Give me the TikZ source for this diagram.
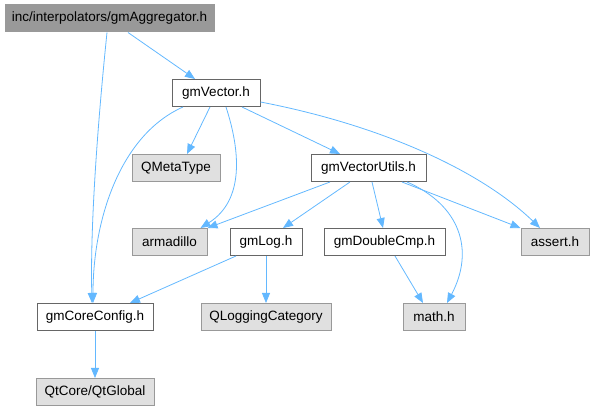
\documentclass[tikz,border=0pt]{standalone}
\usepackage{fontspec}
\setmainfont{Liberation Sans}
\usetikzlibrary{arrows.meta}
\definecolor{edgeblue}{HTML}{63B8FF}
\definecolor{darkborder}{HTML}{666666}
\definecolor{lightborder}{HTML}{999999}
\definecolor{extfill}{HTML}{E0E0E0}
\definecolor{topfill}{HTML}{999999}
\tikzset{
  filebox/.style={draw=darkborder, fill=white, line width=1pt, minimum height=27pt,
    inner sep=0pt, font=\fontsize{13.5}{15}\selectfont, text=black},
  extbox/.style={filebox, draw=lightborder, fill=extfill},
  topbox/.style={filebox, draw=lightborder, fill=topfill},
  dep/.style={draw=edgeblue, line width=0.8pt, -{Triangle[length=10pt,width=8pt]}}
}
\begin{document}
\begin{tikzpicture}[x=1pt,y=-1pt]
\useasboundingbox (0,0) rectangle (595,411);
\node[topbox, minimum width=209pt] (agg) at (109.5,18.5) {inc/interpolators/gmAggregator.h};
\node[filebox, minimum width=88pt] (vec) at (216,93) {gmVector.h};
\node[extbox, minimum width=88pt] (qmeta) at (176,168) {QMetaType};
\node[filebox, minimum width=115pt] (utils) at (368.5,168) {gmVectorUtils.h};
\node[extbox, minimum width=75pt] (arma) at (169.5,242) {armadillo};
\node[filebox, minimum width=72pt] (log) at (266,242) {gmLog.h};
\node[filebox, minimum width=121pt] (dbl) at (384.5,242) {gmDoubleCmp.h};
\node[extbox, minimum width=68pt] (assert) at (555,242) {assert.h};
\node[filebox, minimum width=116pt] (core) at (95,317) {gmCoreConfig.h};
\node[extbox, minimum width=130pt] (qlog) at (266,317) {QLoggingCategory};
\node[extbox, minimum width=62pt] (math) at (434,317) {math.h};
\node[extbox, minimum width=118pt] (qtg) at (95,392) {QtCore/QtGlobal};

\draw[dep] ([xshift=18.5pt]agg.south) -- ([xshift=-21pt]vec.north);
\draw[dep] ([xshift=-2.5pt]agg.south) .. controls (99,110) and (90,220) .. ([xshift=-3pt]core.north);
\draw[dep] ([xshift=-6pt]vec.south) -- ([xshift=11pt]qmeta.north);
\draw[dep] ([xshift=10pt]vec.south) .. controls (240,150) and (245,200) .. ([xshift=-7pt]arma.north east);
\draw[dep] ([xshift=26pt]vec.south) -- ([xshift=-28.5pt]utils.north);
\draw[dep] ([yshift=-9pt]vec.east) .. controls (380,125) and (480,170) .. ([xshift=-15pt]assert.north);
\draw[dep] ([xshift=-33pt]vec.south) .. controls (120,135) and (93,220) .. ([xshift=-2pt]core.north);
\draw[dep] ([xshift=-38.5pt]utils.south) -- (arma.north east);
\draw[dep] ([xshift=-18.5pt]utils.south) -- ([xshift=17pt]log.north);
\draw[dep] ([xshift=3.5pt]utils.south) -- ([xshift=-1.5pt]dbl.north);
\draw[dep] ([xshift=33.5pt]utils.south) -- (assert.north west);
\draw[dep] ([xshift=38.5pt]utils.south) .. controls (460,205) and (475,250) .. ([xshift=13pt]math.north);
\draw[dep] ([xshift=10.5pt]dbl.south) -- ([xshift=-11pt]math.north);
\draw[dep] ([xshift=-30pt]log.south) -- ([xshift=35pt]core.north);
\draw[dep] (log.south) -- (qlog.north);
\draw[dep] (core.south) -- (qtg.north);
\end{tikzpicture}
\end{document}
